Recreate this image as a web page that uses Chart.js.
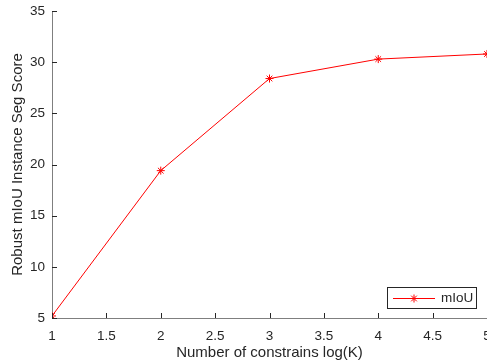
<!DOCTYPE html>
<html>
<head>
<meta charset="utf-8">
<script src="https://cdn.jsdelivr.net/npm/chart.js@4/dist/chart.umd.min.js"></script>
<style>
  body { margin: 0; background: #fff; }
  #wrap { width: 487px; height: 362px; position: relative; }
</style>
</head>
<body>
<div id="wrap"><canvas id="kChart"></canvas></div>
<script>
// data
const kValues = [1, 2, 3, 4, 5];
const miouScores = [5.2, 19.4, 28.4, 30.3, 30.8];
const seriesLabel = 'mIoU';

const axisGray = '#7f7f7f';
const textColor = '#262626';
const fontFam = '"Liberation Sans", Arial, Helvetica, sans-serif';

// MATLAB style ticks pointing into the plot
const inwardTicks = {
  id: 'inwardTicks',
  afterDraw(chart) {
    const ctx = chart.ctx;
    const { x, y } = chart.scales;
    const len = 5;
    ctx.save();
    ctx.strokeStyle = textColor;
    ctx.lineWidth = 1;
    ctx.beginPath();
    x.ticks.forEach(t => {
      const px = Math.round(x.getPixelForValue(t.value)) + 0.5;
      ctx.moveTo(px, y.bottom);
      ctx.lineTo(px, y.bottom - len);
    });
    y.ticks.forEach(t => {
      const py = Math.round(y.getPixelForValue(t.value)) + 0.5;
      ctx.moveTo(x.left, py);
      ctx.lineTo(x.left + len, py);
    });
    ctx.stroke();
    ctx.restore();
  }
};

// boxed legend inside the lower right corner
const boxLegend = {
  id: 'boxLegend',
  afterDraw(chart) {
    const ctx = chart.ctx;
    const area = chart.chartArea;
    const ds = chart.data.datasets[0];
    const w = 89, h = 21;
    const bx = area.right - w - 11;
    const by = area.bottom - h - 10;
    ctx.save();
    ctx.fillStyle = '#fff';
    ctx.fillRect(bx, by, w, h);
    ctx.strokeStyle = textColor;
    ctx.lineWidth = 1;
    ctx.strokeRect(Math.round(bx) + 0.5, Math.round(by) + 0.5, w, h);
    const cy = Math.round(by + h / 2) + 0.5;
    ctx.strokeStyle = ds.borderColor;
    ctx.fillStyle = ds.borderColor;
    ctx.beginPath();
    ctx.moveTo(bx + 6, cy);
    ctx.lineTo(bx + 48, cy);
    ctx.stroke();
    Chart.helpers.drawPoint(ctx, {
      pointStyle: 'star', radius: 4, borderWidth: 1, rotation: 0
    }, bx + 27, cy);
    ctx.fillStyle = textColor;
    ctx.font = '13.5px ' + fontFam;
    ctx.textBaseline = 'middle';
    ctx.fillText(ds.label, bx + 54, cy);
    ctx.restore();
  }
};

new Chart(document.getElementById('kChart'), {
  type: 'line',
  data: {
    datasets: [{
      label: seriesLabel,
      data: kValues.map((k, i) => ({ x: k, y: miouScores[i] })),
      borderColor: '#ff0000',
      backgroundColor: '#ff0000',
      borderWidth: 1,
      pointStyle: 'star',
      pointRadius: 4,
      pointBorderWidth: 1,
      pointBorderColor: '#ff0000',
      pointBackgroundColor: '#ff0000',
      tension: 0
    }]
  },
  options: {
    responsive: true,
    maintainAspectRatio: false,
    animation: false,
    layout: { autoPadding: false, padding: 0 },
    plugins: {
      legend: { display: false },
      tooltip: { enabled: false }
    },
    scales: {
      x: {
        type: 'linear',
        min: 1,
        max: 5,
        grid: { display: false, drawTicks: false },
        border: { color: axisGray, width: 1 },
        ticks: {
          stepSize: 0.5,
          color: textColor,
          padding: 10,
          font: { family: fontFam, size: 13.5 },
          callback: v => String(v)
        },
        title: {
          display: true,
          text: 'Number of constrains log(K)',
          color: textColor,
          padding: { top: 2, bottom: 0 },
          font: { family: fontFam, size: 15 }
        },
        afterFit(scale) {
          scale.paddingRight = 0;
          scale.height = 44;
        }
      },
      y: {
        min: 5,
        max: 35,
        grid: { display: false, drawTicks: false },
        border: { color: axisGray, width: 1 },
        ticks: {
          stepSize: 5,
          color: textColor,
          padding: 7,
          font: { family: fontFam, size: 13.5 },
          callback: v => String(v)
        },
        title: {
          display: true,
          text: 'Robust mIoU Instance Seg Score',
          color: textColor,
          padding: { top: 9, bottom: 4 },
          font: { family: fontFam, size: 15 }
        },
        afterFit(scale) {
          scale.width = 52;
          scale.paddingTop = 11;
          scale.paddingBottom = 0;
        }
      }
    }
  },
  plugins: [inwardTicks, boxLegend]
});
</script>
</body>
</html>
